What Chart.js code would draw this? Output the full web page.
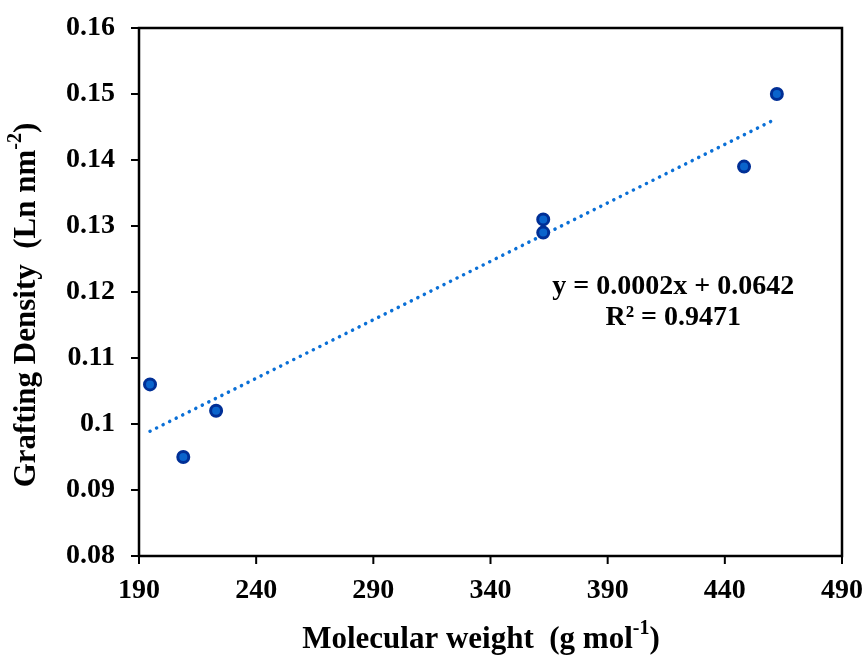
<!DOCTYPE html>
<html>
<head>
<meta charset="utf-8">
<script src="https://cdn.jsdelivr.net/npm/chart.js@4.4.0/dist/chart.umd.min.js"></script>
<style>
  html, body { margin: 0; padding: 0; background: #fff; }
  #wrap { width: 864px; height: 660px; }
</style>
</head>
<body>
<div id="wrap"><canvas id="chart" width="864" height="660"></canvas></div>
<script>
// measured points
const molWeight = [194.7, 208.9, 222.9, 362.5, 362.5, 448.2, 462.2];
const density = [0.106, 0.095, 0.102, 0.131, 0.129, 0.139, 0.150];

// linear trendline ends
const trendX = [194.7, 462.2];
const trendY = [0.0989, 0.1463];

const xTicks = [190, 240, 290, 340, 390, 440, 490];
const yTicks = [0.08, 0.09, 0.1, 0.11, 0.12, 0.13, 0.14, 0.15, 0.16];

const eqnLines = ["y = 0.0002x + 0.0642", "R\u00B2 = 0.9471"];
const eqnAt = [418, 0.1208];

const FONT = "'Liberation Serif', 'Times New Roman', serif";

const boxAndText = {
    id: "boxAndText",
    afterDraw(chart) {
        const {ctx, chartArea: a, scales} = chart;
        ctx.save();
        ctx.strokeStyle = "#000";
        ctx.lineWidth = 2.5;
        ctx.strokeRect(a.left, a.top, a.right - a.left, a.bottom - a.top);

        // outside tick marks
        ctx.lineWidth = 2;
        yTicks.forEach(v => {
            const y = scales.y.getPixelForValue(v);
            ctx.beginPath(); ctx.moveTo(a.left - 8, y); ctx.lineTo(a.left, y); ctx.stroke();
        });
        xTicks.forEach(v => {
            const x = scales.x.getPixelForValue(v);
            ctx.beginPath(); ctx.moveTo(x, a.bottom); ctx.lineTo(x, a.bottom + 8); ctx.stroke();
        });

        // trend equation
        ctx.fillStyle = "#000";
        ctx.font = "bold 28px " + FONT;
        ctx.textAlign = "center";
        ctx.textBaseline = "middle";
        const ex = scales.x.getPixelForValue(eqnAt[0]);
        const ey = scales.y.getPixelForValue(eqnAt[1]);
        eqnLines.forEach((t, i) => ctx.fillText(t, ex, ey + i * 31));

        // axis titles with superscripts
        ctx.font = "bold 31px " + FONT;
        drawSup(ctx, "Molecular weight  (g mol", "-1", ")", 481, 640);
        ctx.translate(27, 305);
        ctx.rotate(-Math.PI / 2);
        drawSup(ctx, "Grafting Density  (Ln nm", "-2", ")", 0, 0);
        ctx.restore();
    }
};

function drawSup(ctx, pre, sup, post, cx, cy) {
    const big = ctx.font;
    const small = big.replace("31px", "20px");
    const w1 = ctx.measureText(pre).width;
    const w3 = ctx.measureText(post).width;
    ctx.font = small;
    const w2 = ctx.measureText(sup).width;
    ctx.font = big;
    let x = cx - (w1 + w2 + w3) / 2;
    ctx.textAlign = "left";
    ctx.textBaseline = "middle";
    ctx.fillText(pre, x, cy);
    x += w1;
    ctx.font = small;
    ctx.fillText(sup, x, cy - 11);
    x += w2;
    ctx.font = big;
    ctx.fillText(post, x, cy);
}

new Chart(document.getElementById("chart"), {
    type: "scatter",
    data: {
        datasets: [
            {
                label: "Trend",
                type: "line",
                data: trendX.map((x, i) => ({x: x, y: trendY[i]})),
                borderColor: "#0a6fd6",
                borderWidth: 3.5,
                borderDash: [0.1, 7.2],
                borderCapStyle: "round",
                pointRadius: 0,
                fill: false,
                order: 2
            },
            {
                label: "Grafting density",
                data: molWeight.map((x, i) => ({x: x, y: density[i]})),
                backgroundColor: "#0a64cc",
                borderColor: "#002f96",
                borderWidth: 3,
                pointRadius: 5.5,
                order: 1
            }
        ]
    },
    options: {
        responsive: false,
        animation: false,
        layout: {padding: {left: 0, top: 28, right: 22, bottom: 0}},
        plugins: {legend: {display: false}, tooltip: {enabled: false}},
        scales: {
            x: {
                type: "linear",
                min: 190, max: 490,
                afterBuildTicks: s => { s.ticks = xTicks.map(v => ({value: v})); },
                afterFit: s => { s.height = 104; s.paddingLeft = 0; s.paddingRight = 0; },
                grid: {display: false, drawTicks: false},
                border: {display: false},
                ticks: {
                    color: "#000",
                    padding: 18,
                    maxRotation: 0,
                    font: {family: FONT, size: 28, weight: "bold"}
                }
            },
            y: {
                min: 0.08, max: 0.16,
                afterBuildTicks: s => { s.ticks = yTicks.map(v => ({value: v})); },
                afterFit: s => { s.width = 139; s.paddingTop = 0; s.paddingBottom = 0; },
                grid: {display: false, drawTicks: false},
                border: {display: false},
                ticks: {
                    color: "#000",
                    padding: 24,
                    font: {family: FONT, size: 28, weight: "bold"},
                    callback: v => String(parseFloat(v.toFixed(2)))
                }
            }
        }
    },
    plugins: [boxAndText]
});
</script>
</body>
</html>
